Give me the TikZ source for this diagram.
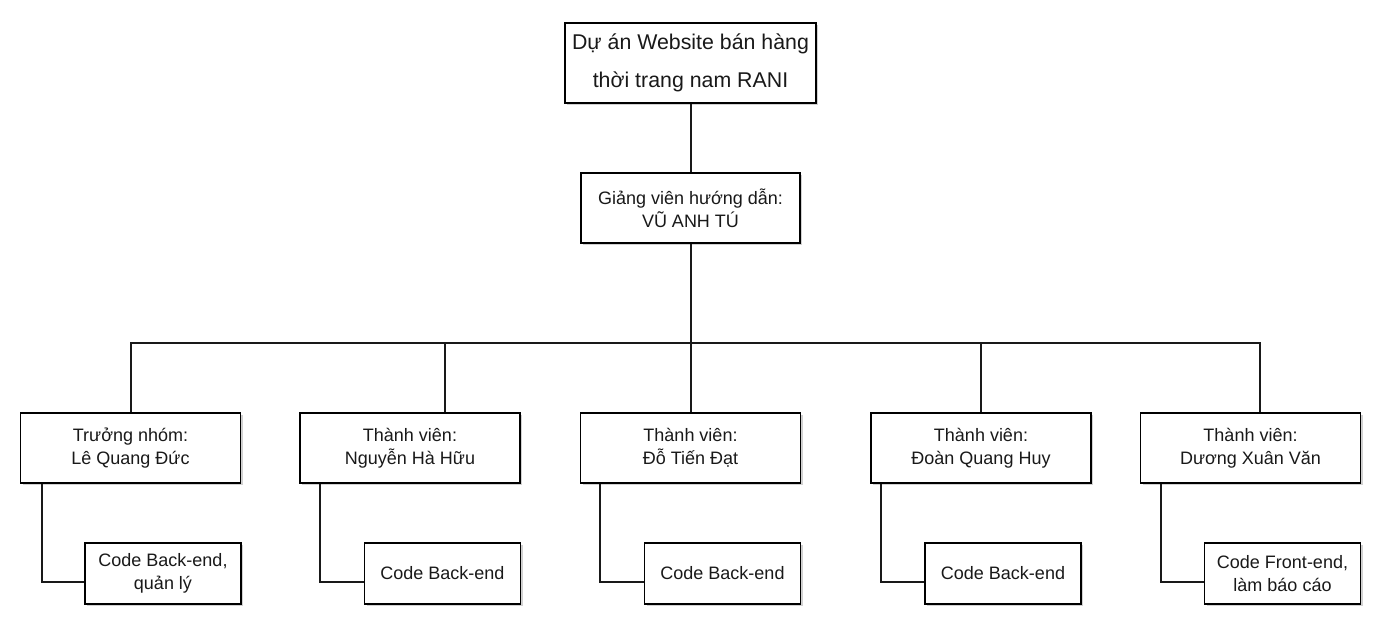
\documentclass[tikz,border=0pt]{standalone}
\usepackage{fontspec}
\setmainfont{Liberation Sans}
\usetikzlibrary{shadows,calc}
\begin{document}
\begin{tikzpicture}[x=0.75pt,y=-0.75pt,
  box/.style={draw=black, line width=1.1pt, fill=white, inner sep=0pt, align=center,
    text=black!90, font=\fontsize{13.5}{17}\selectfont,
    drop shadow={shadow xshift=1.5pt, shadow yshift=-1.5pt, opacity=0.18, fill=black}},
  topbox/.style={box, font=\fontsize{16}{28.5}\selectfont, minimum width=188.25pt, minimum height=60pt},
  midbox/.style={box, minimum width=164.25pt, minimum height=52.5pt},
  membox/.style={box, minimum width=165pt, minimum height=52.5pt},
  taskbox/.style={box, minimum width=117pt, minimum height=45.75pt},
  link/.style={draw=black!90, line width=1.5pt}]
\useasboundingbox (0,0) rectangle (1387,631);

\node[topbox] (top) at (690.5,63) {Dự án Website bán hàng\\thời trang nam RANI};
\node[midbox] (mid) at (690.5,208) {Giảng viên hướng dẫn:\\VŨ ANH TÚ};

\node[membox] (b1) at (130.5,448) {Trưởng nhóm:\\Lê Quang Đức};
\node[membox] (b2) at (410,448) {Thành viên:\\Nguyễn Hà Hữu};
\node[membox] (b3) at (690.5,448) {Thành viên:\\Đỗ Tiến Đạt};
\node[membox] (b4) at (981,448) {Thành viên:\\Đoàn Quang Huy};
\node[membox] (b5) at (1250.5,448) {Thành viên:\\Dương Xuân Văn};

\node[taskbox] (s1) at (163,573.5) {Code Back-end,\\quản lý};
\node[taskbox] (s2) at (442.5,573.5) {Code Back-end};
\node[taskbox] (s3) at (722.5,573.5) {Code Back-end};
\node[taskbox] (s4) at (1003,573.5) {Code Back-end};
\node[taskbox] (s5) at (1282.5,573.5) {Code Front-end,\\làm báo cáo};

\coordinate (bus) at (690.5,343);

\draw[link] (top) -- (mid);
\draw[link] (mid.south) -- (bus);
\draw[link] (bus) -| (b1.north);
\draw[link] (bus) -| ($(b2.north)+(35,0)$);
\draw[link] (bus) -- (b3.north);
\draw[link] (bus) -| (b4.north);
\draw[link] (bus) -| ($(b5.north)+(9.5,0)$);

\draw[link] ($(b1.south west)+(22,0)$) |- ($(s1.west)+(0,8.5)$);
\draw[link] ($(b2.south west)+(21,0)$) |- ($(s2.west)+(0,8.5)$);
\draw[link] ($(b3.south west)+(20,0)$) |- ($(s3.west)+(0,8.5)$);
\draw[link] ($(b4.south west)+(10.5,0)$) |- ($(s4.west)+(0,8.5)$);
\draw[link] ($(b5.south west)+(21,0)$) |- ($(s5.west)+(0,8.5)$);
\end{tikzpicture}
\end{document}
